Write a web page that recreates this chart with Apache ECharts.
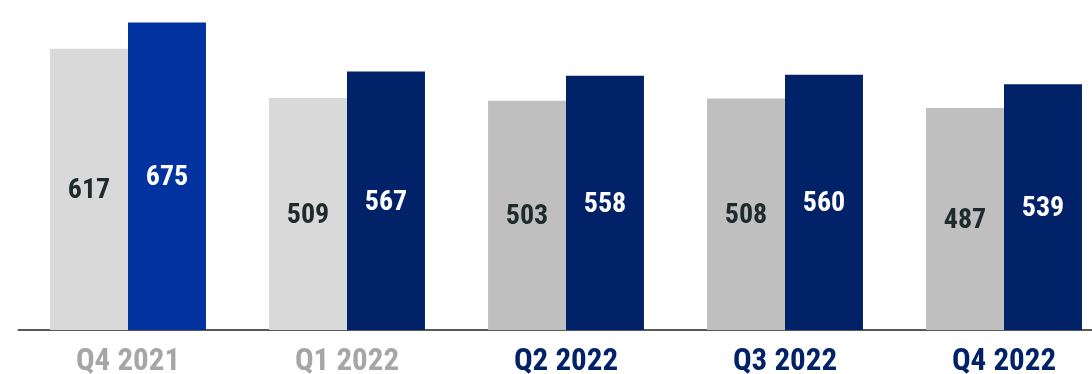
<!DOCTYPE html>
<html>
<head>
<meta charset="utf-8">
<style>
  html, body { margin: 0; padding: 0; background: #ffffff; }
  #chart { width: 1092px; height: 374px; }
</style>
<script src="https://cdn.jsdelivr.net/npm/echarts@6/dist/echarts.min.js"></script>
</head>
<body>
<div id="chart"></div>
<script>
// Quarterly figures: previous period (grey) vs. current (blue)
const quarters = ['Q4 2021', 'Q1 2022', 'Q2 2022', 'Q3 2022', 'Q4 2022'];
const greyValues = [617, 509, 503, 508, 487];
const blueValues = [675, 567, 558, 560, 539];

const greyColors = ['#d9d9d9', '#d9d9d9', '#bfbfbf', '#bfbfbf', '#bfbfbf'];
const blueColors = ['#0033a0', '#012169', '#012169', '#012169', '#012169'];
const quarterLabelColors = ['#a6a6a6', '#a6a6a6', '#012169', '#012169', '#012169'];

const FONT = '"Liberation Sans Narrow", "Roboto Condensed", Roboto, sans-serif';

const chart = echarts.init(document.getElementById('chart'), null, { renderer: 'canvas' });

chart.setOption({
  animation: false,
  backgroundColor: '#ffffff',
  // the plot runs a little past the right edge of the canvas
  grid: {
    left: 18.5, width: 1095, top: 11, bottom: 44,
    containLabel: false,
    outerBoundsMode: 'none'
  },
  xAxis: {
    type: 'category',
    data: quarters.map((q, i) => ({ value: q, textStyle: { color: quarterLabelColors[i] } })),
    axisLine: { show: true, lineStyle: { color: '#595959', width: 2 } },
    axisTick: { show: false },
    axisLabel: {
      margin: 17,
      fontFamily: FONT,
      fontWeight: 'bold',
      fontSize: 31
    }
  },
  yAxis: {
    type: 'value',
    min: 0,
    max: 700,
    show: false,
    splitLine: { show: false }
  },
  series: [
    {
      type: 'bar',
      barGap: '0%',
      barCategoryGap: '28.8%',
      data: greyValues.map((v, i) => ({ value: v, itemStyle: { color: greyColors[i] } })),
      label: {
        show: true,
        position: 'inside',
        offset: [0, 2],
        color: '#1e2b2b',
        fontFamily: FONT,
        fontWeight: 'bold',
        fontSize: 28
      }
    },
    {
      type: 'bar',
      data: blueValues.map((v, i) => ({ value: v, itemStyle: { color: blueColors[i] } })),
      label: {
        show: true,
        position: 'inside',
        offset: [0, 2],
        color: '#ffffff',
        fontFamily: FONT,
        fontWeight: 'bold',
        fontSize: 28
      }
    }
  ]
});
</script>
</body>
</html>
